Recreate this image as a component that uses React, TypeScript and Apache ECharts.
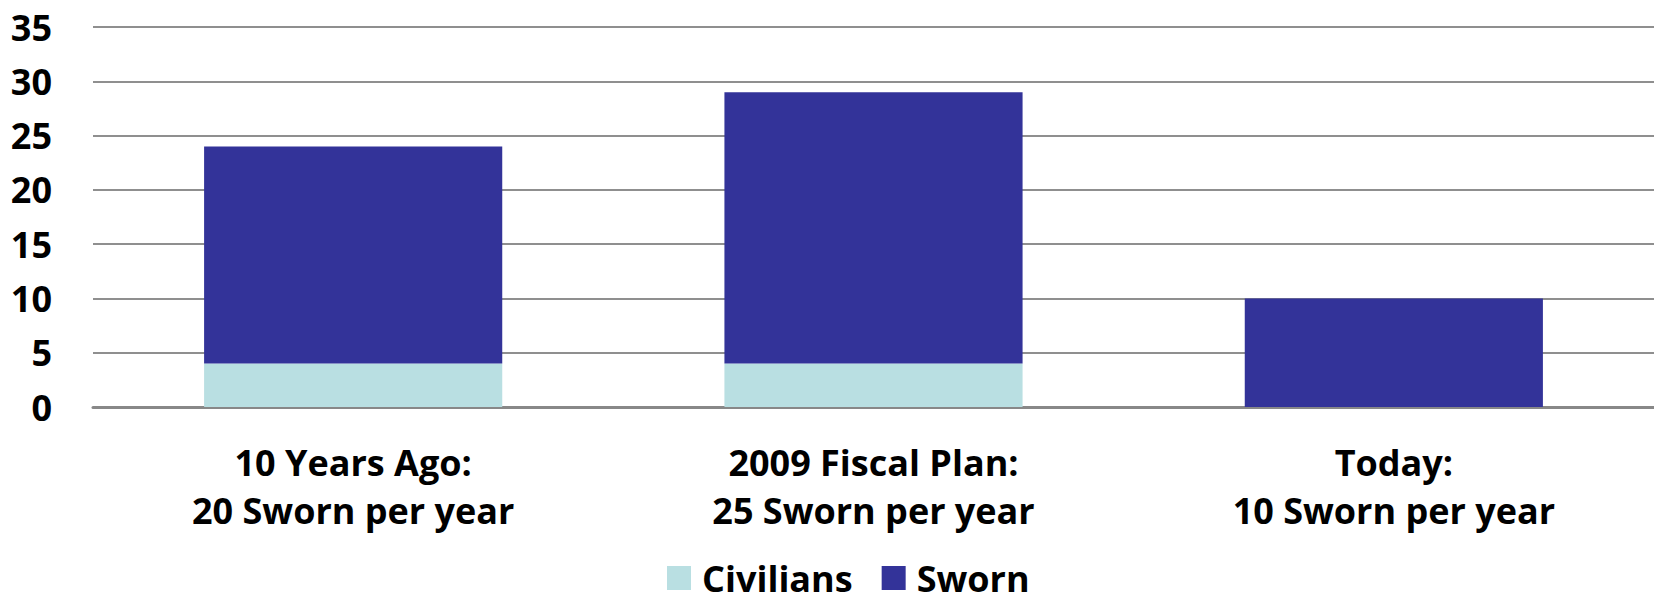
import React, { useEffect, useRef } from "react";
import * as echarts from "echarts";

const categories = ["10 Years Ago:\n20 Sworn per year", "2009 Fiscal Plan:\n25 Sworn per year", "Today:\n10 Sworn per year"];
const civilians = [4, 4, 0];
const sworn = [20, 25, 10];
const yTicks = { min: 0, max: 35, interval: 5 };

const FONT = "'Open Sans', sans-serif";

export default function App() {
  const ref = useRef<HTMLDivElement>(null);
  useEffect(() => {
    document.body.style.margin = "0";
    const chart = echarts.init(ref.current!, null, { renderer: "svg" });
    chart.setOption({
      animation: false,
      backgroundColor: "#ffffff",
      textStyle: { fontFamily: FONT },
      grid: { left: 93, right: -5, top: 27, bottom: 197, containLabel: false },
      legend: {
        top: 560,
        left: 667,
        padding: 0,
        itemWidth: 24,
        itemHeight: 24,
        itemGap: 29,
        icon: "rect",
        textStyle: { fontSize: 36, fontWeight: "bold", color: "#000", fontFamily: FONT, lineHeight: 36, padding: [0, 0, 0, 6] },
        data: ["Civilians", "Sworn"],
      },
      xAxis: {
        type: "category",
        data: categories,
        axisLine: { lineStyle: { color: "#888888", width: 3 } },
        axisTick: { show: false },
        axisLabel: {
          fontSize: 36,
          fontWeight: "bold",
          color: "#000",
          lineHeight: 48,
          margin: 31,
          fontFamily: FONT,
        },
      },
      yAxis: {
        type: "value",
        min: yTicks.min,
        max: yTicks.max,
        interval: yTicks.interval,
        axisLine: { show: false },
        axisTick: { show: false },
        splitLine: { lineStyle: { color: "#8f8f8f", width: 2 } },
        axisLabel: { fontSize: 36, fontWeight: "bold", color: "#000", margin: 41, fontFamily: FONT },
      },
      series: [
        {
          name: "Civilians",
          type: "bar",
          stack: "total",
          data: civilians,
          barWidth: "57.3%",
          itemStyle: { color: "#B9DFE2" },
        },
        {
          name: "Sworn",
          type: "bar",
          stack: "total",
          data: sworn,
          barWidth: "57.3%",
          itemStyle: { color: "#333399" },
        },
      ],
    });
    return () => chart.dispose();
  }, []);
  return <div ref={ref} style={{ width: 1654, height: 604 }} />;
}
